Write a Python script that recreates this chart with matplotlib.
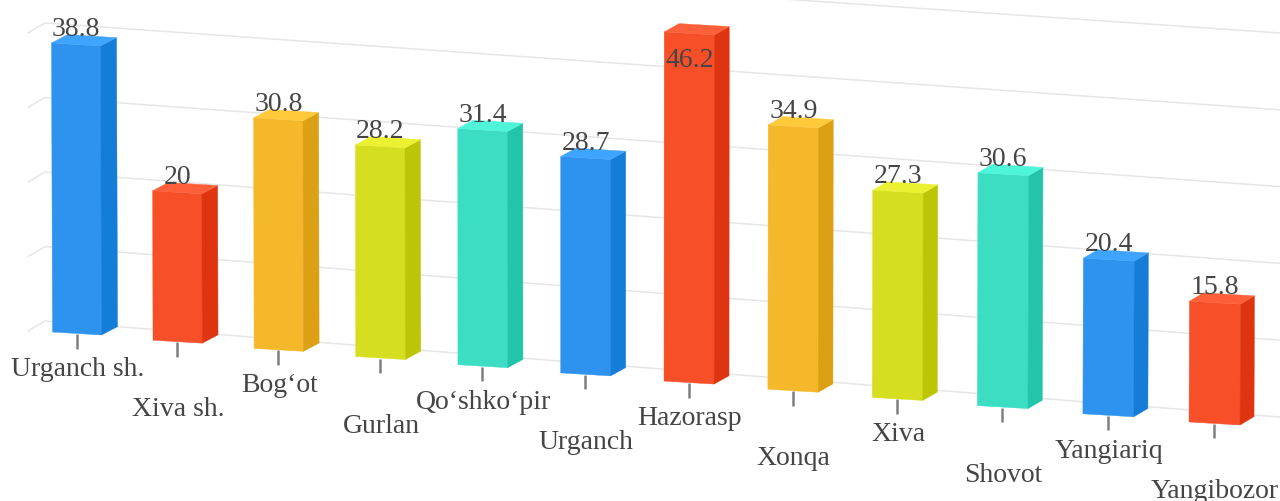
import matplotlib
matplotlib.use("Agg")
import matplotlib.pyplot as plt

names = ["Urganch sh.", "Xiva sh.", "Bog‘ot", "Gurlan", "Qo‘shko‘pir", "Urganch",
         "Hazorasp", "Xonqa", "Xiva", "Shovot", "Yangiariq", "Yangibozor"]
values = [38.8, 20, 30.8, 28.2, 31.4, 28.7, 46.2, 34.9, 27.3, 30.6, 20.4, 15.8]
grid_values = [0, 10, 20, 30, 40, 50]

# front, side, top
palette = [("#2E93EE", "#157CD8", "#3FA4FF"),
           ("#F74F28", "#DE3510", "#FF6039"),
           ("#F5B82B", "#DBA014", "#FFC93C"),
           ("#D6DF1F", "#BDC606", "#EBF030"),
           ("#3BDEC3", "#22C5AA", "#4EF5D8")]
text_color = "#454545"

plt.rcParams["font.family"] = ["Liberation Serif", "DejaVu Serif"]

fig = plt.figure(figsize=(12.8, 5.02), dpi=100)
ax = fig.add_axes([0, 0, 1, 1])
ax.set_xlim(0, 1280)
ax.set_ylim(502, 0)
ax.axis("off")


# the picture is a tilted 3d view, so the scale changes a bit along x
def front_corner(i, v, side):
    width = 49 + 0.18 * i
    x = 52.5 + 100.24 * i + 0.28 * i * i + side * width + 0.005 * (i - 5) * v
    y = 333 + 8.18 * i + side * 3 - (7.45 + 0.018 * i) * v
    return x, y


def back_corner(i, v, side):
    x, y = front_corner(i, v, side)
    return x + 16 - 0.18 * i, y - 8.3


# grid on the back wall
for g in grid_values:
    y_left = 322 - 7.45 * g
    y_right = 418 - 7.68 * g
    ax.plot([28, 45, 1280], [y_left + 10, y_left, y_right], color="#e6e6e6", lw=1.1, zorder=1)

for i, v in enumerate(values):
    front, side, top = palette[i % len(palette)]
    z = 3 + i
    corners = [front_corner(i, 0, 0), front_corner(i, 0, 1), front_corner(i, v, 1), front_corner(i, v, 0)]
    ax.fill(*zip(*corners), color=front, lw=0.3, zorder=z)
    corners = [front_corner(i, 0, 1), back_corner(i, 0, 1), back_corner(i, v, 1), front_corner(i, v, 1)]
    ax.fill(*zip(*corners), color=side, lw=0.3, zorder=z)
    corners = [front_corner(i, v, 0), front_corner(i, v, 1), back_corner(i, v, 1), back_corner(i, v, 0)]
    ax.fill(*zip(*corners), color=top, lw=0.3, zorder=z)

    # tick and staggered category label
    x0, y0 = front_corner(i, 0, 0.5)
    tick_x = x0 - 0.5
    ax.plot([tick_x, tick_x], [y0 + 0.5, y0 + 15], color="#808080", lw=1.8, zorder=2, solid_capstyle="butt")
    offset = 35 if i % 2 == 0 else 67
    ax.text(tick_x + 1, y0 + offset, names[i], fontsize=20, color=text_color,
            ha="center", va="center", zorder=20)

    # value label sits on the bar, the tallest one does not fit above
    xl, yl = front_corner(i, v, 0)
    xr, yr = front_corner(i, v, 1)
    base = yl + 34 if v > 45 else yl - 8
    ax.text((xl + xr) / 2, base, f"{v:g}", fontsize=20, color=text_color,
            ha="center", va="baseline", zorder=20)

fig.savefig("out.png", dpi=100)
